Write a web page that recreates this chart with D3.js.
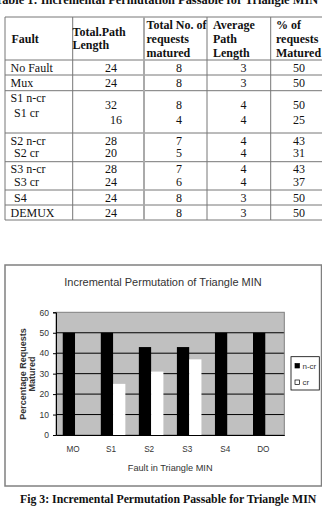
<!DOCTYPE html>
<html>
<head>
    <script src="https://cdnjs.cloudflare.com/ajax/libs/d3/7.8.5/d3.min.js"></script>
    <style>
        body { margin: 0; background: #fff; }
        svg { display: block; }
        .tbl { font-family: "Liberation Serif", "Times New Roman", serif; font-size: 12px; fill: #111; }
        .tbl-head { font-weight: bold; }
        .chart-text { font-family: "Liberation Sans", Arial, sans-serif; fill: #333; }
        .caption { font-family: "Liberation Serif", "Times New Roman", serif; font-weight: bold; font-size: 12.4px; fill: #111; }
    </style>
</head>
<body>
<div id="page"></div>
<script>
    // table data
    const headers = [
        ["Fault"],
        ["Total.Path", "Length"],
        ["Total No. of", "requests", "matured"],
        ["Average", "Path", "Length"],
        ["% of", "requests", "Matured"]
    ];
    const faults = [["No Fault"], ["Mux"], ["S1 n-cr", " S1 cr"], ["S2 n-cr", " S2 cr"], ["S3 n-cr", " S3 cr"], [" S4"], ["DEMUX"]];
    const pathLength = [[24], [24], [32, 16], [28, 20], [28, 24], [24], [24]];
    const requestsMatured = [[8], [8], [8, 4], [7, 5], [7, 6], [8], [8]];
    const avgPathLength = [[3], [3], [4, 4], [4, 4], [4, 4], [3], [3]];
    const pctMatured = [[50], [50], [50, 25], [43, 31], [43, 37], [50], [50]];

    // chart data
    const groups = ["MO", "S1", "S2", "S3", "S4", "DO"];
    const seriesNames = ["n-cr", "cr"];
    const nCr = [50, 50, 43, 43, 50, 50];
    const cr = [0, 25, 31, 37, 0, 0];
    const yTicks = [0, 10, 20, 30, 40, 50, 60];

    const width = 322, height = 510;
    const svg = d3.select("#page").append("svg")
        .attr("width", width)
        .attr("height", height);

    // top caption, only its lower part is inside the page
    svg.append("text")
        .attr("class", "caption")
        .attr("x", -5)
        .attr("y", 3.5)
        .text("Table 1: Incremental Permutation Passable for Triangle MIN");

    // ---------- table ----------
    const colX = [5, 72.7, 144, 207, 270.7, 332];
    const rowTop = 17;
    const headH = 43;
    const rowH = [15, 15.7, 42.3, 28.7, 28.3, 15, 15];

    const tbl = svg.append("g").attr("class", "tbl");
    const rowY = [rowTop, rowTop + headH];
    rowH.forEach(h => rowY.push(rowY[rowY.length - 1] + h));

    // horizontal lines
    rowY.forEach(y => {
        tbl.append("line")
            .attr("x1", colX[0]).attr("x2", colX[colX.length - 1])
            .attr("y1", y).attr("y2", y)
            .attr("stroke", "#777").attr("stroke-width", 1);
    });
    // vertical lines
    colX.forEach((x, i) => {
        tbl.append("line")
            .attr("x1", x).attr("x2", x)
            .attr("y1", rowTop).attr("y2", rowY[rowY.length - 1])
            .attr("stroke", i === 2 ? "#aaa" : "#777")
            .attr("stroke-width", i === 2 ? 2 : 1);
    });

    // header text
    const headLayouts = [
        { x: 11.5, y: [39] },
        { x: 72.5, y: [32, 44.5] },
        { x: 146.5, y: [25, 39, 52.5] },
        { x: 213, y: [25, 39, 52.5] },
        { x: 276, y: [25, 39, 52.5] }
    ];
    headers.forEach((lines, c) => {
        lines.forEach((t, k) => {
            tbl.append("text")
                .attr("class", "tbl-head")
                .attr("x", headLayouts[c].x)
                .attr("y", headLayouts[c].y[k])
                .attr("dy", "0.35em")
                .text(t);
        });
    });

    // body rows
    const valueCols = [pathLength, requestsMatured, avgPathLength, pctMatured];
    const valueCenters = [111, 179, 243.5, 299];
    faults.forEach((labels, r) => {
        const top = rowY[r + 1];
        const tall = r === 2;
        labels.forEach((t, k) => {
            const y = tall ? top + 7.5 + k * 15 : top + 7.5 + k * 12.5;
            tbl.append("text")
                .attr("x", t.startsWith(" ") ? 14 : 10.5)
                .attr("y", y)
                .attr("dy", "0.35em")
                .text(t.trim());
        });
        valueCols.forEach((col, c) => {
            col[r].forEach((v, k) => {
                const y = tall ? top + 14.5 + k * 15 : top + 7.5 + k * 12.5;
                tbl.append("text")
                    .attr("x", valueCenters[c] + (tall && c === 0 && k === 1 ? 5 : 0))
                    .attr("y", y)
                    .attr("dy", "0.35em")
                    .attr("text-anchor", "middle")
                    .text(v);
            });
        });
    });

    // ---------- chart ----------
    const frame = { x: 5, y: 265, w: 316.5, h: 221 };
    svg.append("rect")
        .attr("x", frame.x).attr("y", frame.y)
        .attr("width", frame.w).attr("height", frame.h)
        .attr("fill", "#fff")
        .attr("stroke", "#808080")
        .attr("stroke-width", 1.5);

    const plot = { left: 56, right: 284.3, top: 312.3, bottom: 435 };

    const x = d3.scaleBand().domain(groups).range([plot.left, plot.right]).padding(0);
    const xs = d3.scaleBand().domain(seriesNames).range([0, x.bandwidth()])
        .paddingInner(0).paddingOuter(0.55);
    const y = d3.scaleLinear().domain([0, 60]).range([plot.bottom, plot.top]);

    svg.append("text")
        .attr("class", "chart-text")
        .attr("x", 163)
        .attr("y", 282)
        .attr("dy", "0.35em")
        .attr("text-anchor", "middle")
        .attr("font-size", 11)
        .text("Incremental Permutation of Triangle MIN");

    // plot area
    svg.append("rect")
        .attr("x", plot.left).attr("y", plot.top)
        .attr("width", plot.right - plot.left)
        .attr("height", plot.bottom - plot.top)
        .attr("fill", "#c0c0c0");

    // gridlines
    svg.append("g")
        .selectAll("line")
        .data(yTicks.filter(d => d > 0 && d < 60))
        .join("line")
        .attr("x1", plot.left).attr("x2", plot.right)
        .attr("y1", d => y(d)).attr("y2", d => y(d))
        .attr("stroke", "#000").attr("stroke-width", 1);

    // plot border
    svg.append("rect")
        .attr("x", plot.left).attr("y", plot.top)
        .attr("width", plot.right - plot.left)
        .attr("height", plot.bottom - plot.top)
        .attr("fill", "none")
        .attr("stroke", "#808080").attr("stroke-width", 1);

    // bars
    const barData = groups.map((g, i) => [
        { g, s: "n-cr", v: nCr[i] },
        { g, s: "cr", v: cr[i] }
    ]).flat();
    svg.append("g")
        .selectAll("rect")
        .data(barData.filter(d => d.v > 0))
        .join("rect")
        .attr("x", d => x(d.g) + xs(d.s))
        .attr("y", d => y(d.v))
        .attr("width", xs.bandwidth())
        .attr("height", d => y(0) - y(d.v))
        .attr("fill", d => d.s === "n-cr" ? "#000" : "#fff");

    // axes
    const yAxis = svg.append("g")
        .attr("transform", `translate(${plot.left},0)`)
        .call(d3.axisLeft(y).tickValues(yTicks).tickSize(3).tickPadding(4));
    yAxis.select(".domain").attr("stroke", "#000");
    yAxis.selectAll(".tick line").attr("stroke", "#000");
    yAxis.selectAll("text")
        .attr("class", "chart-text")
        .attr("font-size", 8.5)
        .attr("fill", "#444");

    const xAxis = svg.append("g")
        .attr("transform", `translate(0,${plot.bottom})`)
        .call(d3.axisBottom(x).tickSize(0).tickPadding(11));
    xAxis.select(".domain").attr("stroke", "#000");
    xAxis.selectAll("text")
        .attr("class", "chart-text")
        .attr("font-size", 8.2)
        .attr("fill", "#444")
        .attr("dx", "-2");

    svg.append("text")
        .attr("class", "chart-text")
        .attr("x", (plot.left + plot.right) / 2)
        .attr("y", 468)
        .attr("dy", "0.35em")
        .attr("text-anchor", "middle")
        .attr("font-size", 9.2)
        .text("Fault in Triangle MIN");

    // y title
    const yTitle = svg.append("text")
        .attr("class", "chart-text")
        .attr("transform", "translate(0,374) rotate(-90)")
        .attr("text-anchor", "middle")
        .attr("font-size", 9)
        .attr("font-weight", "bold");
    yTitle.append("tspan").attr("x", 0).attr("y", 25.5).text("Percentage Requests");
    yTitle.append("tspan").attr("x", 0).attr("y", 35).text("Matured");

    // legend
    const lg = svg.append("g");
    lg.append("rect")
        .attr("x", 291).attr("y", 356.7)
        .attr("width", 28.3).attr("height", 33.3)
        .attr("fill", "#fff").attr("stroke", "#000").attr("stroke-width", 0.8);
    seriesNames.forEach((s, i) => {
        lg.append("rect")
            .attr("x", 295).attr("y", 363.5 + i * 16.5)
            .attr("width", 4.5).attr("height", 4.5)
            .attr("fill", s === "n-cr" ? "#000" : "#fff")
            .attr("stroke", "#000").attr("stroke-width", 0.7);
        lg.append("text")
            .attr("class", "chart-text")
            .attr("x", 302.5).attr("y", 366 + i * 16.5)
            .attr("dy", "0.35em")
            .attr("font-size", 8)
            .text(s);
    });

    // bottom caption, sized so it just fits the page width
    svg.append("text")
        .attr("class", "caption")
        .attr("x", 20)
        .attr("y", 503)
        .attr("font-size", 11.8)
        .style("font-size", "11.8px")
        .text("Fig 3: Incremental Permutation Passable for Triangle MIN");
</script>
</body>
</html>
